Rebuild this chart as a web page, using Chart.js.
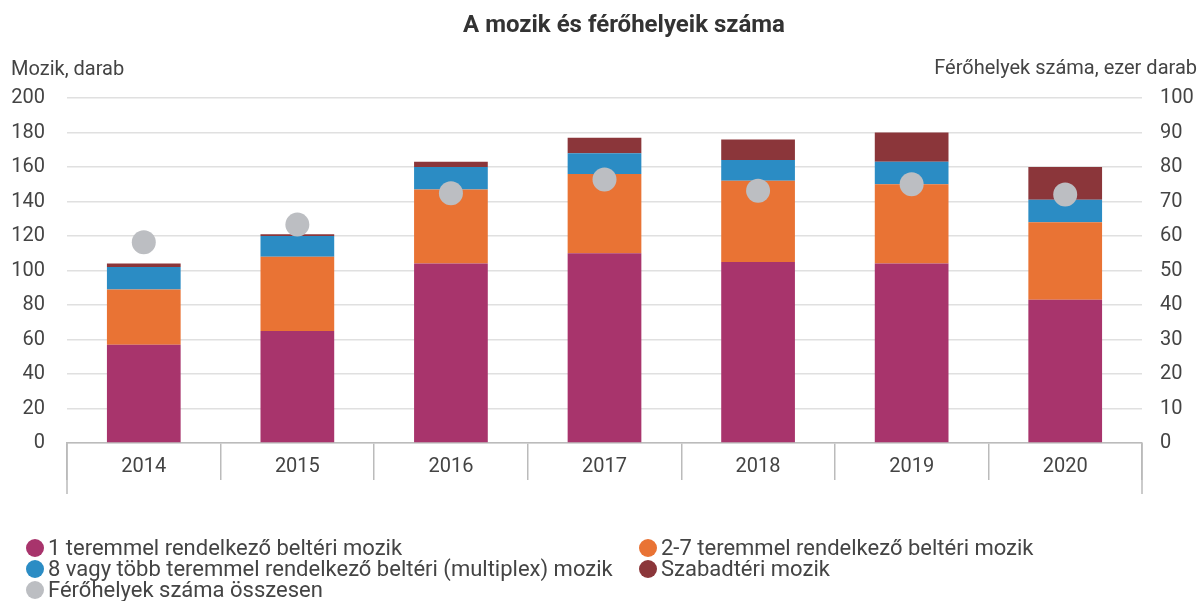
<!DOCTYPE html>
<html>
<head>
<meta charset="utf-8">
<script src="https://cdn.jsdelivr.net/npm/chart.js@4"></script>
<style>
  body { margin: 0; background: #fff; font-family: Roboto, sans-serif; }
  #wrap { position: relative; width: 1204px; height: 601px; }
  #legend { position: absolute; left: 26px; top: 537px; width: 1170px; font-size: 22px; line-height: 21px; color: #444; }
  .item { position: absolute; display: flex; align-items: center; white-space: nowrap; height: 21px; }
  .dot { width: 18px; height: 18px; border-radius: 50%; margin-right: 4px; flex: none; }
</style>
</head>
<body>
<div id="wrap">
  <canvas id="cinemaChart" width="1204" height="601"></canvas>
  <div id="legend"></div>
</div>
<script>
const years = ["2014", "2015", "2016", "2017", "2018", "2019", "2020"];
const oneScreen = [57, 65, 104, 110, 105, 104, 83];
const twoToSeven = [32, 43, 43, 46, 47, 46, 45];
const multiplex = [13, 12, 13, 12, 12, 13, 13];
const openAir = [2, 1, 3, 9, 12, 17, 19];
const seats = [58.2, 63.3, 72.4, 76.4, 73.1, 75, 72];

const leftTicks = [0, 20, 40, 60, 80, 100, 120, 140, 160, 180, 200];
const rightTicks = [0, 10, 20, 30, 40, 50, 60, 70, 80, 90, 100];

const colors = {
  one: "#a8346c",
  two: "#e97334",
  multi: "#2b8cc4",
  open: "#8b363a",
  seats: "#bcbec2",
};

const barSeries = [
  { label: "1 teremmel rendelkező beltéri mozik", data: oneScreen, color: colors.one },
  { label: "2-7 teremmel rendelkező beltéri mozik", data: twoToSeven, color: colors.two },
  { label: "8 vagy több teremmel rendelkező beltéri (multiplex) mozik", data: multiplex, color: colors.multi },
  { label: "Szabadtéri mozik", data: openAir, color: colors.open },
];

// titles drawn on the canvas
const titlesPlugin = {
  id: "titles",
  afterDraw(chart) {
    const c = chart.ctx;
    c.save();
    c.fillStyle = "#333";
    c.textBaseline = "middle";
    c.font = "bold 24px Roboto";
    c.textAlign = "center";
    c.fillText("A mozik és férőhelyeik száma", 624, 26);
    c.font = "20px Roboto";
    c.fillStyle = "#444";
    c.textAlign = "left";
    c.fillText("Mozik, darab", 11, 70);
    c.textAlign = "right";
    c.fillText("Férőhelyek száma, ezer darab", 1197, 69);
    // longer outer edges of the category box
    const a = chart.chartArea;
    c.strokeStyle = "#bbb";
    c.lineWidth = 1.5;
    c.beginPath();
    c.moveTo(a.left, a.bottom);
    c.lineTo(a.left, a.bottom + 51);
    c.moveTo(a.right, a.bottom);
    c.lineTo(a.right, a.bottom + 51);
    c.stroke();
    c.restore();
  },
};

const ctx = document.getElementById("cinemaChart").getContext("2d");

const chart = new Chart(ctx, {
  type: "bar",
  data: {
    labels: years,
    datasets: [
      {
        type: "line",
        label: "Férőhelyek száma összesen",
        data: seats,
        yAxisID: "y1",
        showLine: false,
        pointRadius: 12,
        pointHoverRadius: 12,
        pointBackgroundColor: colors.seats,
        pointBorderWidth: 0,
        backgroundColor: colors.seats,
        order: 0,
      },
      ...barSeries.map((s) => ({
        label: s.label,
        data: s.data,
        backgroundColor: s.color,
        stack: "mozik",
        yAxisID: "y",
        barPercentage: 0.48,
        categoryPercentage: 1,
        order: 1,
      })),
    ],
  },
  options: {
    responsive: false,
    animation: false,
    layout: { padding: { left: 0, right: 0, top: 98, bottom: 108 } },
    plugins: {
      legend: { display: false },
      title: { display: false },
      tooltip: { enabled: false },
    },
    scales: {
      x: {
        stacked: true,
        offset: true,
        border: { display: true, color: "#bbb", width: 1.5 },
        grid: { offset: true, drawOnChartArea: false, tickLength: 37, color: "#bbb", lineWidth: 1.5 },
        ticks: { font: { size: 20, family: "Roboto" }, color: "#444", padding: -25 },
        afterFit(scale) { scale.height = 50; },
      },
      y: {
        position: "left",
        stacked: true,
        min: 0,
        max: 200,
        afterBuildTicks(scale) { scale.ticks = leftTicks.map((v) => ({ value: v })); },
        border: { display: false },
        grid: { color: "#e0e0e0", lineWidth: 1.5, drawTicks: false },
        ticks: { font: { size: 20, family: "Roboto" }, color: "#444", padding: 22 },
        afterFit(scale) { scale.width = 67; },
      },
      y1: {
        position: "right",
        min: 0,
        max: 100,
        afterBuildTicks(scale) { scale.ticks = rightTicks.map((v) => ({ value: v })); },
        border: { display: false },
        grid: { display: false, drawTicks: false },
        ticks: { font: { size: 20, family: "Roboto" }, color: "#444", padding: 18 },
        afterFit(scale) { scale.width = 62; },
      },
    },
  },
  plugins: [titlesPlugin],
});

// HTML legend in two columns
const legendItems = [
  { label: barSeries[0].label, color: colors.one, col: 0, row: 0 },
  { label: barSeries[1].label, color: colors.two, col: 1, row: 0 },
  { label: barSeries[2].label, color: colors.multi, col: 0, row: 1 },
  { label: barSeries[3].label, color: colors.open, col: 1, row: 1 },
  { label: "Férőhelyek száma összesen", color: colors.seats, col: 0, row: 2 },
];
const legendEl = document.getElementById("legend");
legendItems.forEach((it) => {
  const div = document.createElement("div");
  div.className = "item";
  div.style.left = (it.col === 0 ? 0 : 613) + "px";
  div.style.top = it.row * 21 + "px";
  div.innerHTML = `<span class="dot" style="background:${it.color}"></span><span>${it.label}</span>`;
  legendEl.appendChild(div);
});
</script>
</body>
</html>
